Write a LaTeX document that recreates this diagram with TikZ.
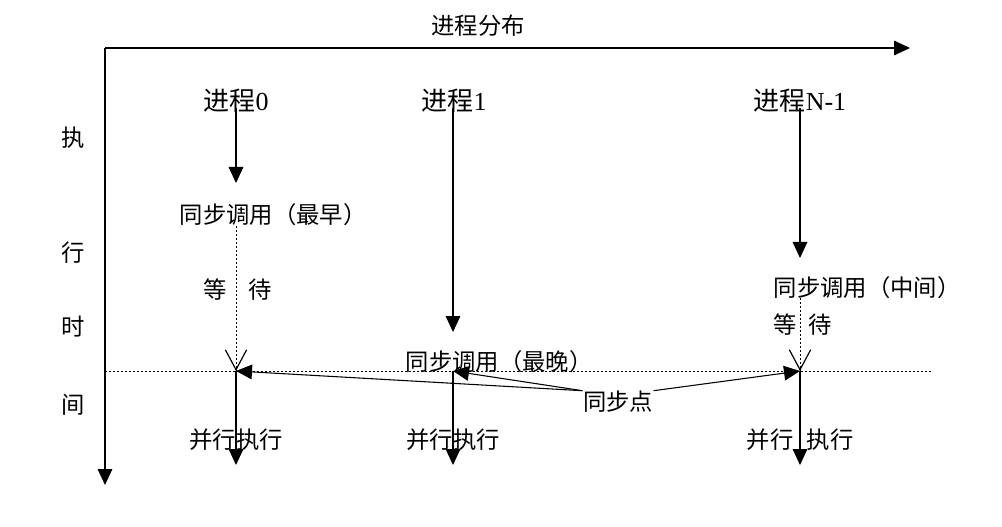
\documentclass[tikz,border=0pt]{standalone}
\usepackage{fontspec}
\setmainfont{Liberation Serif}
\newfontfamily\cjk{Noto Sans CJK SC}
\usetikzlibrary{arrows.meta}

\tikzset{
  lbl/.style={inner sep=0pt, font=\fontsize{17.5pt}{20pt}\selectfont\cjk},
  proc/.style={inner sep=0pt, font=\fontsize{19.5pt}{22pt}\selectfont},
  flow/.style={-{Triangle[length=12pt, width=11pt]}},
  waitline/.style={thin, dash pattern=on 1.5pt off 1.5pt},
  barb/.style={line width=0.9pt, -{Straight Barb[length=15pt, width=16pt]}},
}

\begin{document}
\begin{tikzpicture}[x=0.75pt, y=-0.75pt, thick]
  \useasboundingbox (0,0) rectangle (1002,527);
  % axes
  \coordinate (origin) at (105,48);
  \coordinate (xend) at (910,48);
  \coordinate (yend) at (105,485);
  \draw[flow] (origin) -- (xend);
  \draw[flow] (origin) -- (yend);
  \node[lbl] (dist) at (478,26) {进程分布};
  \node[lbl] (t1) at (73,138) {执};
  \node[lbl] (t2) at (73,253) {行};
  \node[lbl] (t3) at (73,327) {时};
  \node[lbl] (t4) at (73,405) {间};
  % sync line
  \coordinate (sl) at (105,371);
  \coordinate (sr) at (932,371);
  \draw[waitline] (sl) -- (sr);
  % process labels
  \node[proc] (p0) at (236,101) {{\cjk 进程}0};
  \node[proc] (p1) at (454,101) {{\cjk 进程}1};
  \node[proc] (pn) at (800,101) {{\cjk 进程}N-1};
  % process 0 (earliest)
  \coordinate (a0) at (236,108);
  \coordinate (b0) at (236,183);
  \coordinate (w0) at (236,226);
  \coordinate (s0) at (236,371);
  \coordinate (e0) at (236,465);
  \draw[flow] (a0) -- (b0);
  \node[lbl] (call0) at (273,215) {同步调用（最早）};
  \draw[waitline] (w0) -- (s0);
  \draw[barb] (s0) ++(0,-2) -- (s0);
  \node[lbl] (wa0) at (215,290) {等};
  \node[lbl] (wb0) at (260,290) {待};
  \draw[flow] (s0) -- (e0);
  \node[lbl] (run0) at (236,440) {并行执行};
  % process 1 (latest)
  \coordinate (a1) at (453,108);
  \coordinate (b1) at (453,332);
  \coordinate (s1) at (453,371);
  \coordinate (e1) at (453,465);
  \draw[flow] (a1) -- (b1);
  \node[lbl] (call1) at (499,362) {同步调用（最晚）};
  \draw[flow] (s1) -- (e1);
  \node[lbl] (run1) at (453,440) {并行执行};
  % process N-1 (middle)
  \coordinate (an) at (800,108);
  \coordinate (bn) at (800,258);
  \coordinate (wn) at (800,298);
  \coordinate (sn) at (800,371);
  \coordinate (en) at (800,465);
  \draw[flow] (an) -- (bn);
  \node[lbl] (calln) at (867,288) {同步调用（中间）};
  \draw[waitline] (wn) -- (sn);
  \draw[barb] (sn) ++(0,-2) -- (sn);
  \node[lbl] (wan) at (785,325) {等};
  \node[lbl] (wbn) at (820,325) {待};
  \draw[flow] (sn) -- (en);
  \node[lbl] (runa) at (770,440) {并行};
  \node[lbl] (runb) at (830,440) {执行};
  % sync point
  \node[lbl] (sync) at (618,402) {同步点};
  \draw[flow] (sync.north west) -- (s0);
  \draw[flow] (sync.north west) -- (s1);
  \draw[flow] (sync.north east) -- (sn);
\end{tikzpicture}
\end{document}
